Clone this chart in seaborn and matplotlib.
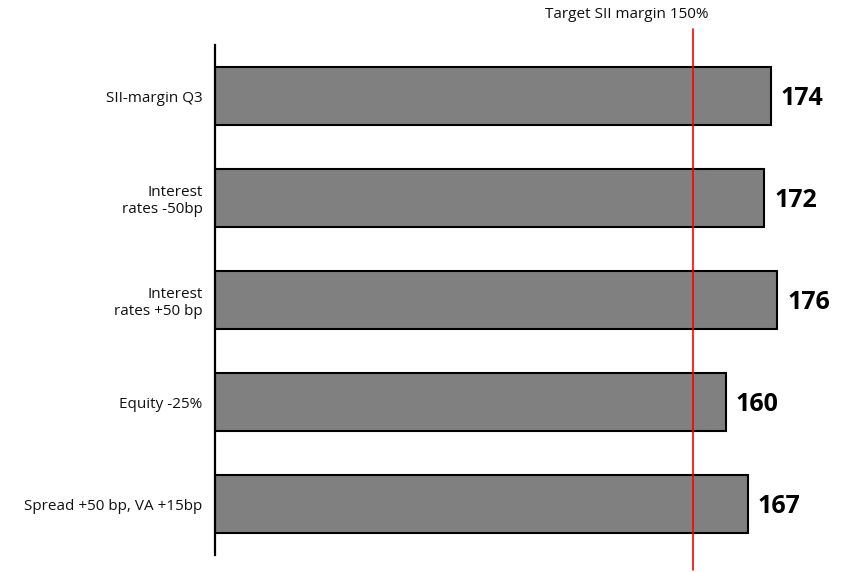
import matplotlib
matplotlib.use("Agg")
import matplotlib.pyplot as plt
import seaborn as sns
import pandas as pd

categories = ["SII-margin Q3", "Interest\nrates -50bp", "Interest\nrates +50 bp",
              "Equity -25%", "Spread +50 bp, VA +15bp"]
values = [174, 172, 176, 160, 167]
target = 150
target_label = "Target SII margin 150%"

sns.set_theme(style="white")
plt.rcParams['font.family'] = ['Open Sans', 'DejaVu Sans']

W, H = 848, 572
fig = plt.figure(figsize=(W / 100, H / 100), dpi=100)
ax = fig.add_axes([215 / W, 1 - 555 / H, (845 - 215) / W, (555 - 45) / H])

df = pd.DataFrame({"cat": categories, "val": values})
sns.barplot(data=df, x="val", y="cat", orient="h", color="#808080", saturation=1,
            edgecolor="black", linewidth=1.5, width=0.56, ax=ax)

xmin = 1.65
xmax = xmin + (845 - 215) / 3.225
ax.set_xlim(xmin, xmax)
ax.set_ylim(4.5, -0.5)

for i, v in enumerate(values):
    ax.annotate(str(v), xy=(v, i), xytext=(7, -2), textcoords="offset points",
                ha="left", va="center", fontsize=18, fontweight="bold", color="black")

ax.plot([target, target], [-0.66, 4.65], color="#ff0000", lw=1.2, clip_on=False, zorder=5)
ax.text(target + 4.8, -0.80, target_label, ha="right", va="center", fontsize=11, color="#111111")

for s in ["top", "right", "bottom"]:
    ax.spines[s].set_visible(False)
ax.spines["left"].set_color("black")
ax.spines["left"].set_linewidth(1.6)
ax.set_xticks([])
ax.set_xlabel("")
ax.set_ylabel("")
ax.tick_params(axis="y", length=0, pad=9, labelsize=11, labelcolor="#111111")

fig.savefig("out.png", dpi=100)
